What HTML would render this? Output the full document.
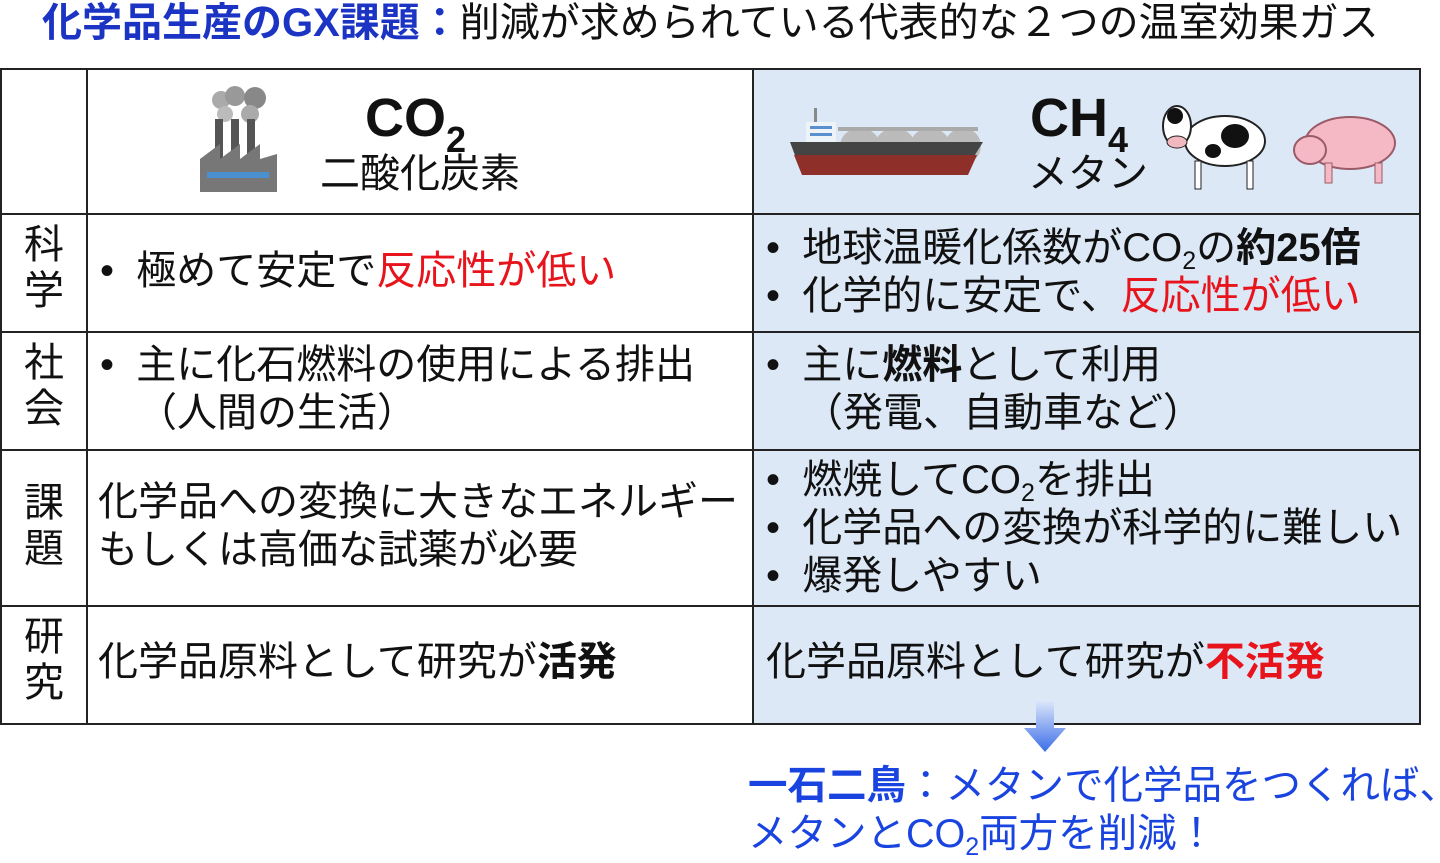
<!DOCTYPE html>
<html><head><meta charset="utf-8"><style>
body{margin:0;width:1440px;height:863px;background:#fff;position:relative;overflow:hidden;font-family:"Liberation Sans","Noto Sans CJK JP",sans-serif;color:#111}
.a{position:absolute;white-space:nowrap}
.t{font-size:40px;line-height:48px}
.r{color:#e8141c}
b{font-weight:bold}
sub{font-size:25px;vertical-align:-8px;line-height:0}
.ln{position:absolute;background:#222}
</style></head><body>
<div class="a" style="left:42px;top:0px;font-size:40px;line-height:46px"><b style="color:#1c34c4">化学品生産のGX課題：</b>削減が求められている代表的な２つの温室効果ガス</div>
<div class="a" style="left:753px;top:68px;width:667px;height:656px;background:#dce8f5"></div>
<div class="ln" style="left:0;top:68px;width:1421px;height:2px"></div>
<div class="ln" style="left:0;top:213px;width:1421px;height:2px"></div>
<div class="ln" style="left:0;top:331px;width:1421px;height:2px"></div>
<div class="ln" style="left:0;top:449px;width:1421px;height:2px"></div>
<div class="ln" style="left:0;top:605px;width:1421px;height:2px"></div>
<div class="ln" style="left:0;top:723px;width:1421px;height:2px"></div>
<div class="ln" style="left:0;top:68px;width:2px;height:657px"></div>
<div class="ln" style="left:86px;top:68px;width:2px;height:657px"></div>
<div class="ln" style="left:752px;top:68px;width:2px;height:657px"></div>
<div class="ln" style="left:1419px;top:68px;width:2px;height:657px"></div>

<svg class="a" style="left:195px;top:84px" width="85" height="112">
<circle cx="26" cy="16" r="9" fill="#aaa"/><circle cx="40" cy="12" r="10" fill="#999"/><circle cx="60" cy="14" r="11" fill="#888"/><circle cx="30" cy="30" r="8" fill="#bbb"/><circle cx="55" cy="30" r="9" fill="#aaa"/>
<rect x="20" y="35" width="8" height="40" fill="#555"/><rect x="36" y="35" width="8" height="40" fill="#555"/><rect x="52" y="35" width="8" height="40" fill="#555"/>
<path d="M5 75 L25 60 L25 75 L45 60 L45 75 L65 60 L65 75 L82 70 L82 108 L5 108Z" fill="#777"/>
<rect x="12" y="88" width="62" height="6" fill="#4a8fd0"/>
</svg>
<div class="a" style="left:365px;top:88px;font-size:54px;line-height:60px;font-weight:bold">CO<span style="font-size:36px;vertical-align:-16px">2</span></div>
<div class="a" style="left:320px;top:150px;font-size:40px;line-height:48px">二酸化炭素</div>

<svg class="a" style="left:788px;top:100px" width="200" height="75">
<rect x="26" y="8" width="3" height="14" fill="#888"/><rect x="18" y="22" width="30" height="20" fill="#eef3f8"/>
<rect x="22" y="26" width="22" height="3" fill="#5a8fd0"/><rect x="22" y="33" width="22" height="3" fill="#5a8fd0"/>
<ellipse cx="72" cy="46" rx="20" ry="18" fill="#bbb"/><ellipse cx="107" cy="46" rx="20" ry="18" fill="#bbb"/><ellipse cx="142" cy="46" rx="20" ry="18" fill="#bbb"/><ellipse cx="175" cy="46" rx="18" ry="18" fill="#bbb"/>
<rect x="50" y="27" width="140" height="4" fill="#aaa"/>
<path d="M2 42 L195 42 L185 58 L8 58Z" fill="#444"/>
<path d="M6 55 L189 55 L180 75 L14 75Z" fill="#8e2f2a"/>
</svg>
<div class="a" style="left:1030px;top:88px;font-size:54px;line-height:60px;font-weight:bold">CH<span style="font-size:36px;vertical-align:-16px">4</span></div>
<div class="a" style="left:1028px;top:150px;font-size:40px;line-height:48px">メタン</div>
<svg class="a" style="left:1155px;top:96px" width="115" height="98">
<ellipse cx="70" cy="45" rx="40" ry="25" fill="#fff" stroke="#222" stroke-width="2"/>
<ellipse cx="80" cy="40" rx="14" ry="12" fill="#111"/><ellipse cx="58" cy="55" rx="8" ry="7" fill="#111"/>
<ellipse cx="22" cy="30" rx="14" ry="20" fill="#fff" stroke="#222" stroke-width="2"/><ellipse cx="20" cy="20" rx="8" ry="8" fill="#111"/>
<ellipse cx="22" cy="46" rx="10" ry="6" fill="#f2b8c0" stroke="#222"/>
<rect x="40" y="65" width="6" height="28" fill="#fff" stroke="#222"/><rect x="92" y="65" width="6" height="28" fill="#fff" stroke="#222"/>
</svg>
<svg class="a" style="left:1285px;top:108px" width="120" height="80">
<ellipse cx="65" cy="35" rx="45" ry="26" fill="#f5b9c6" stroke="#9a5a68" stroke-width="2"/>
<ellipse cx="25" cy="42" rx="16" ry="14" fill="#f5b9c6" stroke="#9a5a68" stroke-width="2"/>
<rect x="40" y="55" width="7" height="20" fill="#f5b9c6" stroke="#9a5a68"/><rect x="90" y="55" width="7" height="20" fill="#f5b9c6" stroke="#9a5a68"/>
</svg>

<div class="a t" style="left:24px;top:222px;line-height:46px">科<br>学</div>
<div class="a t" style="left:24px;top:340px;line-height:46px">社<br>会</div>
<div class="a t" style="left:24px;top:480px;line-height:46px">課<br>題</div>
<div class="a t" style="left:24px;top:614px;line-height:46px">研<br>究</div>

<div class="a t" style="left:100px;top:247px">•&nbsp; 極めて安定で<span class="r">反応性が低い</span></div>
<div class="a t" style="left:100px;top:341px">•&nbsp; 主に化石燃料の使用による排出</div>
<div class="a t" style="left:137px;top:389px">（人間の生活）</div>
<div class="a t" style="left:98px;top:478px">化学品への変換に大きなエネルギー<br>もしくは高価な試薬が必要</div>
<div class="a t" style="left:98px;top:638px">化学品原料として研究が<b>活発</b></div>

<div class="a t" style="left:766px;top:224px">•&nbsp; 地球温暖化係数がCO<sub>2</sub>の<b>約25倍</b></div>
<div class="a t" style="left:766px;top:272px">•&nbsp; 化学的に安定で、<span class="r">反応性が低い</span></div>
<div class="a t" style="left:766px;top:341px">•&nbsp; 主に<b>燃料</b>として利用</div>
<div class="a t" style="left:803px;top:389px">（発電、自動車など）</div>
<div class="a t" style="left:766px;top:456px">•&nbsp; 燃焼してCO<sub>2</sub>を排出</div>
<div class="a t" style="left:766px;top:504px">•&nbsp; 化学品への変換が科学的に難しい</div>
<div class="a t" style="left:766px;top:552px">•&nbsp; 爆発しやすい</div>
<div class="a t" style="left:766px;top:638px">化学品原料として研究が<b class="r">不活発</b></div>

<svg class="a" style="left:1022px;top:700px" width="46" height="55">
<defs><linearGradient id="g" x1="0" y1="0" x2="0" y2="1"><stop offset="0" stop-color="#dfe8fb"/><stop offset="1" stop-color="#3c6ee8"/></linearGradient></defs>
<path d="M14 0 H32 V28 H44 L23 52 L2 28 H14Z" fill="url(#g)"/>
</svg>
<div class="a" style="left:748px;top:762px;font-size:39.5px;line-height:48px;color:#1a44e0"><b>一石二鳥</b>：メタンで化学品をつくれば、<br>メタンとCO<sub>2</sub>両方を削減！</div>
</body></html>
